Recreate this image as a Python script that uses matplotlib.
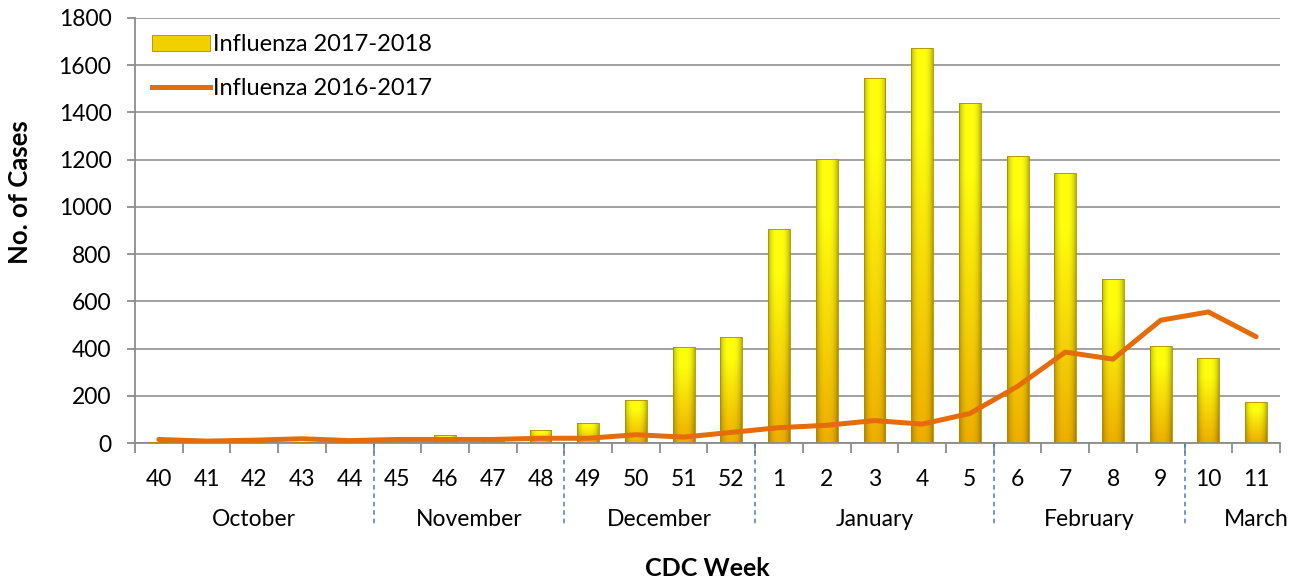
import numpy as np
import matplotlib
matplotlib.use("Agg")
import matplotlib.pyplot as plt
import matplotlib.transforms as mtransforms
from matplotlib.patches import Patch
from matplotlib.lines import Line2D

plt.rcParams['font.family'] = ['Lato', 'DejaVu Sans']

weeks = ['40', '41', '42', '43', '44', '45', '46', '47', '48', '49', '50', '51', '52',
         '1', '2', '3', '4', '5', '6', '7', '8', '9', '10', '11']
flu_1718 = [5, 3, 5, 5, 5, 10, 32, 10, 55, 85, 182, 407, 449,
            907, 1203, 1547, 1674, 1441, 1216, 1144, 695, 411, 360, 174]
flu_1617 = [15, 8, 12, 18, 10, 15, 15, 15, 20, 20, 35, 25, 45,
            65, 75, 95, 80, 125, 240, 385, 355, 520, 555, 450]
months = ['October', 'November', 'December', 'January', 'February', 'March']
month_len = [5, 4, 4, 5, 4, 2]

fig = plt.figure(figsize=(13.02, 5.83), dpi=100)
ax = fig.add_axes([135/1302, 1-443/583, (1280-135)/1302, (443-18)/583])

x = np.arange(len(weeks))
bw = 0.46

# gradient image for the bars (yellow top -> gold bottom, darker edges)
ny, nx = 200, 40
v = np.linspace(0, 1, ny)[:, None]          # 0 = bottom, 1 = top
top = np.array([1.0, 1.0, 0.05])
bot = np.array([0.93, 0.68, 0.0])
t = np.clip(v / 0.8, 0, 1)
col = bot + (top - bot) * t[..., None]
col = np.repeat(col, nx, axis=1)
hx = np.linspace(-1, 1, nx)[None, :]
shade = 1 - 0.28 * np.abs(hx) ** 3
img = col * shade[..., None]
img = np.clip(img, 0, 1)

bars = ax.bar(x, flu_1718, width=bw, color='none', edgecolor='#B08A00', linewidth=0.6, zorder=3)
for b in bars:
    x0, y0 = b.get_x(), b.get_y()
    w, h = b.get_width(), b.get_height()
    im = ax.imshow(img, extent=[x0, x0 + w, y0, y0 + h], origin='lower',
                   aspect='auto', zorder=2.5, interpolation='bilinear')
    im.set_clip_path(b)

ax.plot(x, flu_1617, color='#E46C0A', lw=3.6, solid_capstyle='round', zorder=4)

ax.set_xlim(-0.5, len(weeks) - 0.5)
ax.set_ylim(0, 1800)
ax.set_yticks(np.arange(0, 1801, 200))
ax.yaxis.grid(True, color='#9A9A9A', lw=1.3)
ax.set_axisbelow(True)
for s in ['top', 'right']:
    ax.spines[s].set_visible(False)
for s in ['left', 'bottom']:
    ax.spines[s].set_color('#8C8C8C')
    ax.spines[s].set_linewidth(1.3)

ax.set_xticks(np.arange(-0.5, len(weeks)), minor=False)
ax.set_xticklabels([])
ax.set_xticks(x, minor=True)
ax.set_xticklabels(weeks, minor=True)
ax.tick_params(axis='x', which='major', length=7, width=1.3, color='#8C8C8C')
ax.tick_params(axis='x', which='minor', length=0, pad=19, labelsize=16.5)
ax.tick_params(axis='y', length=6, width=1.3, color='#8C8C8C', labelsize=16.5, pad=11)

trans = mtransforms.blended_transform_factory(ax.transData, ax.transAxes)
start = 0
for i, (m, n) in enumerate(zip(months, month_len)):
    center = start + (n - 1) / 2
    if m == 'March':
        center = start + 1
    ax.text(center, -0.179, m, transform=trans, ha='center', va='center', fontsize=16.5)
    if i > 0:
        ax.plot([start - 0.5, start - 0.5], [0, -0.195], transform=trans, clip_on=False,
                color='#4A7EBB', lw=1.1, ls=(0, (3, 2.5)))
    start += n

ax.text(0.5, -0.295, 'CDC Week', transform=ax.transAxes, ha='center', va='center',
        fontsize=18, fontweight='bold')
fig.text(20/1302, 1 - 192/583, 'No. of Cases', rotation=90, ha='center', va='center',
         fontsize=18.5, fontweight='bold')

handles = [Patch(facecolor='#F2D000', edgecolor='#B08A00', linewidth=0.6),
           Line2D([0], [0], color='#E46C0A', lw=3.6)]
ax.legend(handles, ['Influenza 2017-2018', 'Influenza 2016-2017'], loc='upper left',
          bbox_to_anchor=(0.0066, 0.9835), borderaxespad=0, frameon=False, fontsize=17,
          handlelength=2.45, handletextpad=0.13, labelspacing=0.95)

fig.savefig('out.png', dpi=100)
